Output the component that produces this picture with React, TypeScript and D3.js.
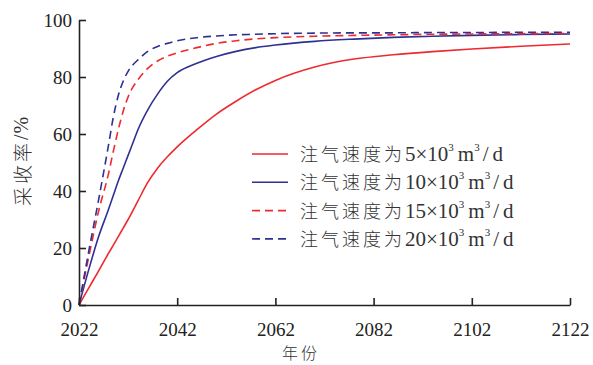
import React, { useEffect, useRef } from "react";
import * as d3 from "d3";

// 年份
const years = [2022, 2024, 2026, 2028, 2029, 2030, 2031, 2032, 2033, 2034, 2036, 2038, 2040, 2042, 2046, 2050, 2054, 2058, 2062, 2070, 2078, 2086, 2094, 2102, 2112, 2122];

// 采收率 (%)
const rate5 = [0, 6, 12, 18.1, 21, 24, 27, 30, 33.2, 36.5, 43, 48, 52, 55.5, 61.5, 67, 71.5, 75.5, 78.8, 83.5, 86.3, 87.8, 88.9, 89.8, 90.8, 91.6];
const rate10 = [0, 12.5, 24, 33.5, 38.5, 43.5, 48, 52.5, 57, 61.5, 68.5, 74, 78.5, 81.5, 84.8, 87.2, 89, 90.3, 91.2, 92.5, 93.3, 93.9, 94.3, 94.6, 94.9, 95.1];
const rate15 = [0, 17, 33, 46, 54, 61.5, 68, 73, 76.5, 79, 83, 85.6, 87.3, 88.5, 90.3, 91.8, 92.7, 93.4, 93.8, 94.3, 94.6, 94.8, 95, 95.1, 95.2, 95.3];
const rate20 = [0, 19, 37, 56, 66, 73.5, 78.5, 82, 84.3, 86, 89, 90.7, 91.8, 92.7, 93.8, 94.4, 94.8, 95, 95.2, 95.4, 95.5, 95.5, 95.6, 95.6, 95.7, 95.7];

const speeds = ["5", "10", "15", "20"];
const xTicks = [2022, 2042, 2062, 2082, 2102, 2122];
const yTicks = [0, 20, 40, 60, 80, 100];

const RED = "#ee2a2f";
const BLUE = "#2e3192";

const series = [
  { name: speeds[0], values: rate5, color: RED, dash: null },
  { name: speeds[1], values: rate10, color: BLUE, dash: null },
  { name: speeds[2], values: rate15, color: RED, dash: "8,5" },
  { name: speeds[3], values: rate20, color: BLUE, dash: "8,5" },
];

const W = 593, H = 365;
const M = { left: 79, right: 23, top: 20, bottom: 60 };
const NUM_FONT = "'Liberation Serif', 'DejaVu Serif', serif";
const CJK_FONT = "'Noto Sans CJK SC', sans-serif";

export default function App() {
  const xRef = useRef<SVGGElement>(null);
  const yRef = useRef<SVGGElement>(null);

  const x = d3.scaleLinear().domain([2022, 2122]).range([M.left, W - M.right]);
  const y = d3.scaleLinear().domain([0, 100]).range([H - M.bottom, M.top]);

  useEffect(() => {
    const xa = d3.axisBottom(x).tickValues(xTicks).tickFormat(d3.format("d")).tickSizeInner(-7).tickSizeOuter(0).tickPadding(18);
    const ya = d3.axisLeft(y).tickValues(yTicks).tickSizeInner(-7).tickSizeOuter(0).tickPadding(7);
    for (const [ref, ax] of [[xRef, xa], [yRef, ya]] as const) {
      const g = d3.select(ref.current!);
      g.selectAll("*").remove();
      g.call(ax as any);
      g.select(".domain").attr("stroke", "#222").attr("stroke-width", 1.6);
      g.selectAll(".tick line").attr("stroke", "#222").attr("stroke-width", 1.6);
      g.selectAll(".tick text")
        .attr("fill", "#222")
        .style("font-family", NUM_FONT)
        .style("font-size", "19px")
        .style("font-weight", "normal");
    }
  }, []);

  const line = d3.line<number>()
    .x((_, i) => x(years[i]))
    .y((d) => y(d))
    .curve(d3.curveMonotoneX);

  const legendX = 252, legendY = 154, legendStep = 28.3;
  const num = { fontFamily: NUM_FONT };
  const cjk = { fontFamily: CJK_FONT, fontWeight: 300 };

  return (
    <svg width={W} height={H} style={{ position: "absolute", left: 0, top: 0, background: "#fff" }}>
      {series.map((s) => (
        <path key={s.name} d={line(s.values) || ""} fill="none" stroke={s.color} strokeWidth={1.6}
          strokeDasharray={s.dash || undefined} />
      ))}
      <g ref={xRef} transform={`translate(0,${H - M.bottom})`} />
      <g ref={yRef} transform={`translate(${M.left},0)`} />

      <text x={21} y={161} transform="rotate(-90 21 161)" textAnchor="middle" dominantBaseline="central"
        style={cjk} fontSize={19} fill="#333" letterSpacing={3}>
        采收率<tspan style={num} fontSize={20} letterSpacing={1}>/%</tspan>
      </text>
      <text x={301} y={359} textAnchor="middle" style={cjk} fontSize={16} fill="#333"
        letterSpacing={3}>年份</text>

      {series.map((s, i) => {
        const ly = legendY + i * legendStep;
        return (
          <g key={"lg" + s.name}>
            <line x1={legendX} x2={legendX + 36} y1={ly} y2={ly} stroke={s.color} strokeWidth={1.6}
              strokeDasharray={s.dash || undefined} />
            <text x={legendX + 48} y={ly + 7} fill="#333">
              <tspan style={cjk} fontSize={18} letterSpacing={3}>注气速度为</tspan>
              <tspan style={num} fontSize={21}>{s.name}×10</tspan>
              <tspan style={num} fontSize={11} dy={-10}>3</tspan>
              <tspan style={num} fontSize={21} dy={10} dx={4}>m</tspan>
              <tspan style={num} fontSize={11} dy={-10}>3</tspan>
              <tspan style={num} fontSize={21} dy={10} dx={3}>/</tspan>
              <tspan style={num} fontSize={21} dx={4}>d</tspan>
            </text>
          </g>
        );
      })}
    </svg>
  );
}
